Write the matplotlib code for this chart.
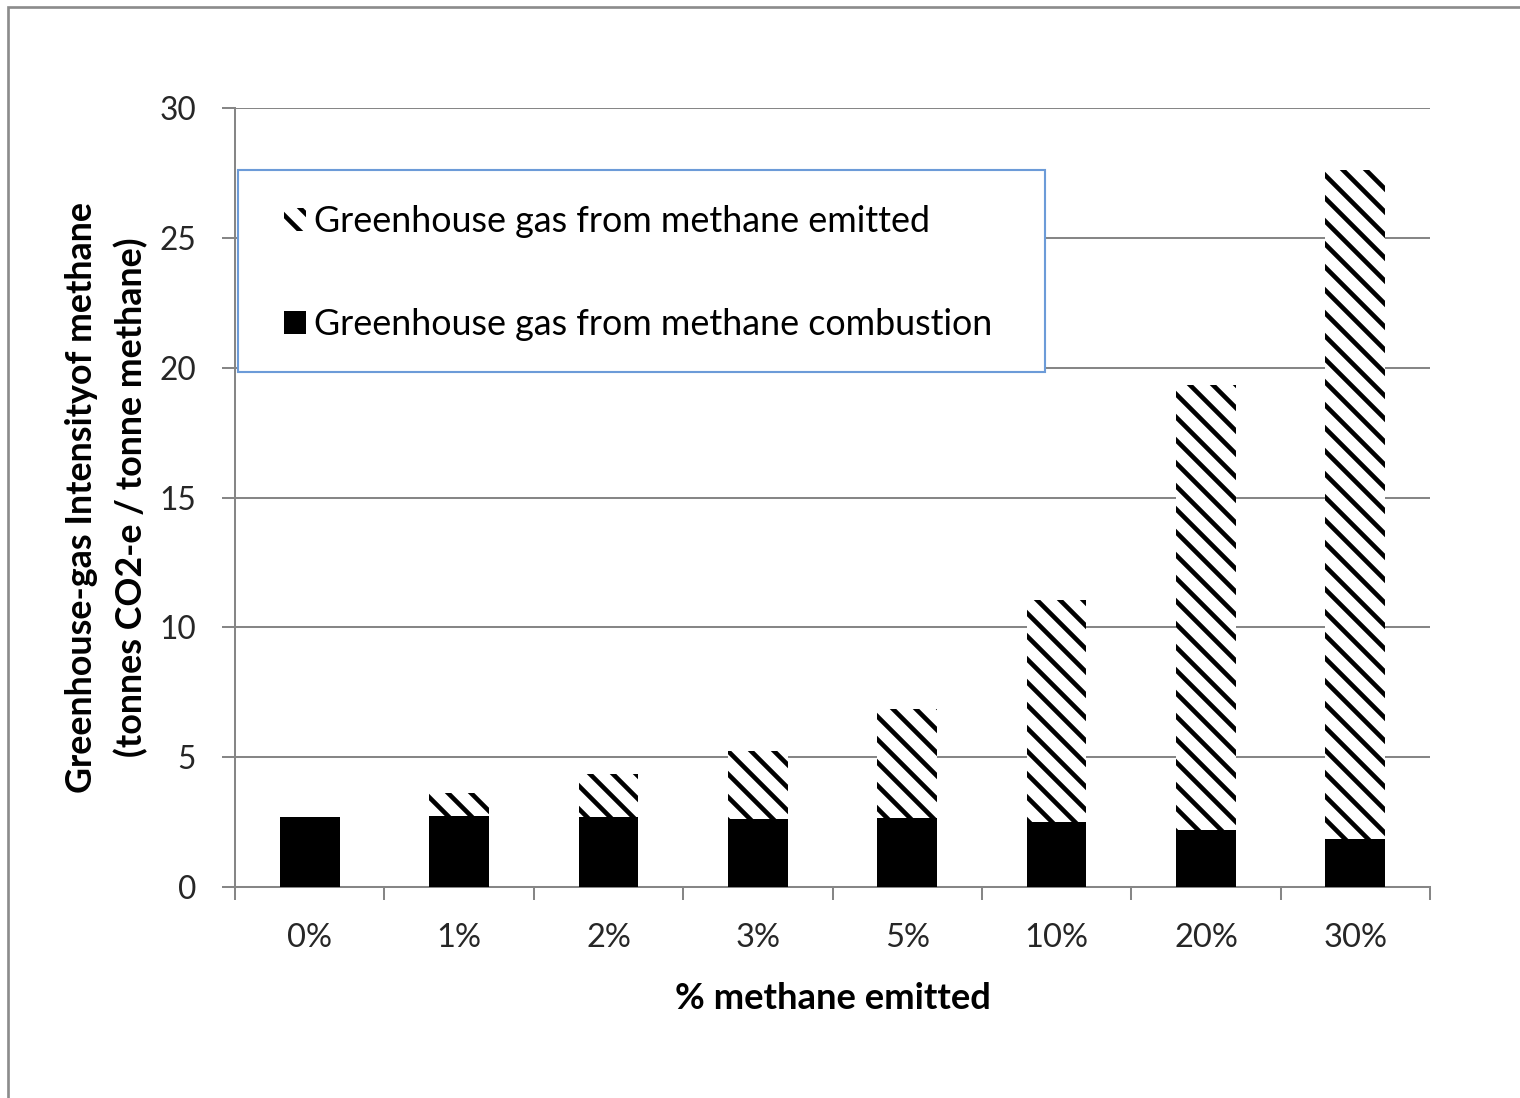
import numpy as np
import matplotlib
matplotlib.use("Agg")
import matplotlib.pyplot as plt
from matplotlib.patches import Rectangle

# Greenhouse-gas intensity of methane, split by source, for each leak rate
categories = ["0%", "1%", "2%", "3%", "5%", "10%", "20%", "30%"]
combustion = [2.70, 2.72, 2.70, 2.62, 2.64, 2.49, 2.18, 1.83]
emitted = [0.0, 0.90, 1.65, 2.60, 4.22, 8.55, 17.15, 25.80]
yticks = [0, 5, 10, 15, 20, 25, 30]

label_emitted = "Greenhouse gas from methane emitted"
label_combustion = "Greenhouse gas from methane combustion"

DPI = 138
W, H = 1520, 1098
GRAY = "#868686"
FONT = ["Lato", "DejaVu Sans"]

plt.rcParams["font.family"] = FONT
plt.rcParams["hatch.linewidth"] = 2.4
plt.rcParams["hatch.color"] = "black"

fig = plt.figure(figsize=(W / DPI, H / DPI), dpi=DPI)
fig.patch.set_facecolor("white")

# outer chart-area border
fig.add_artist(Rectangle((8 / W, -0.5), 2.0, 1.5 - 7 / H, transform=fig.transFigure,
                         fill=False, edgecolor="#8c8c8c", linewidth=1.4))

ax = fig.add_axes([235 / W, 1 - 887 / H, 1195 / W, 779 / H])
x = np.arange(len(categories))

h_comb = ax.bar(x, combustion, width=0.4, color="black", linewidth=0, zorder=3)
h_emit = ax.bar(x, emitted, bottom=combustion, width=0.4, facecolor="white",
                edgecolor="black", hatch="\\\\", linewidth=0, zorder=3)

ax.set_xlim(-0.5, len(categories) - 0.5)
ax.set_ylim(0, 30)

# y axis
ax.set_yticks(yticks)
ax.set_yticklabels([str(v) for v in yticks])
ax.yaxis.grid(True, color=GRAY, linewidth=1.05, zorder=0)
ax.set_axisbelow(True)
ax.tick_params(axis="y", which="major", direction="out", length=6.8, width=1.05,
               color=GRAY, pad=13.5, labelsize=16.5, labelcolor="#262626")

# x axis: ticks on the category boundaries, labels at the centres
ax.set_xticks(np.arange(len(categories) + 1) - 0.5)
ax.set_xticklabels([])
ax.set_xticks(x, minor=True)
ax.set_xticklabels(categories, minor=True)
ax.tick_params(axis="x", which="major", direction="out", length=6.8, width=1.05, color=GRAY)
ax.tick_params(axis="x", which="minor", length=0, pad=19, labelsize=17, labelcolor="#262626")

for side in ("top", "right"):
    ax.spines[side].set_visible(False)
for side in ("left", "bottom"):
    ax.spines[side].set_color(GRAY)
    ax.spines[side].set_linewidth(1.05)

ax.set_xlabel("% methane emitted", fontsize=19, fontweight="bold", labelpad=15)
ax.set_ylabel("Greenhouse-gas Intensityof methane\n(tonnes CO2-e / tonne methane)",
              fontsize=18.7, fontweight="bold", linespacing=1.55)
ax.yaxis.set_label_coords(-0.0725, 0.5)

# legend box
ax.add_patch(Rectangle((0.0025, 0.661), 0.6755, 0.2594, transform=ax.transAxes,
                       facecolor="white", edgecolor="#6c9bd8", linewidth=1.1,
                       zorder=4, clip_on=False))
leg = ax.legend(handles=[h_emit, h_comb], labels=[label_emitted, label_combustion],
                loc="upper left", bbox_to_anchor=(0.0410, 0.8750), frameon=False,
                fontsize=18.7, handlelength=0.6, handleheight=0.6, handletextpad=0.25,
                labelspacing=1.94, borderpad=0, borderaxespad=0)
leg.set_zorder(5)

fig.savefig("out.png", dpi=DPI, facecolor="white")
